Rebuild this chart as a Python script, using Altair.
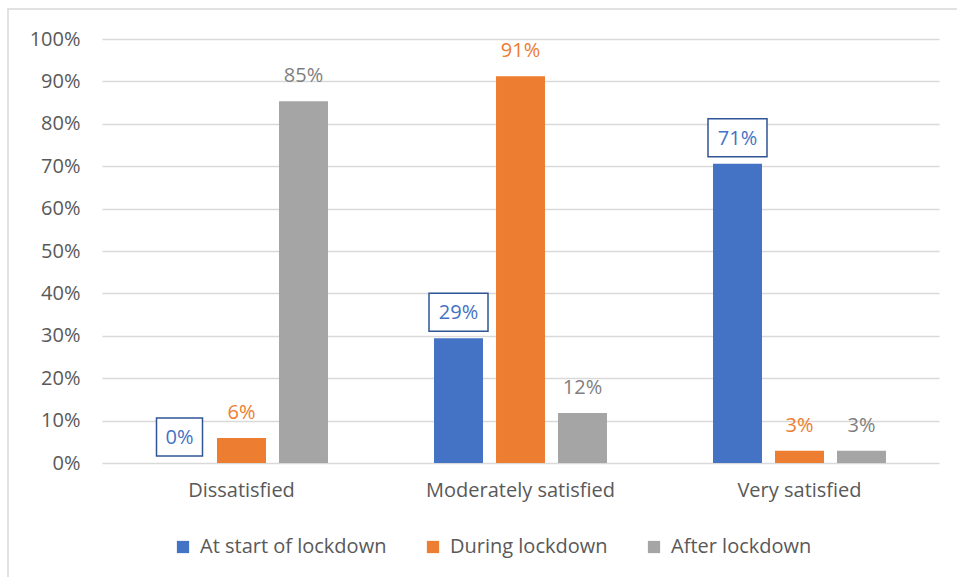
import altair as alt
import pandas as pd

categories = ["Dissatisfied", "Moderately satisfied", "Very satisfied"]
series = ["At start of lockdown", "During lockdown", "After lockdown"]
start_vals = [0.000, 0.294, 0.706]
during_vals = [0.059, 0.912, 0.029]
after_vals = [0.853, 0.118, 0.029]
y_ticks = [0.0, 0.1, 0.2, 0.3, 0.4, 0.5, 0.6, 0.7, 0.8, 0.9, 1.0]

bar_colors = ["#4472C4", "#ED7D31", "#A5A5A5"]
label_colors = ["#4472C4", "#ED7D31", "#7F7F7F"]
FONT = "Open Sans"
TXT = "#595959"

rows = []
for s, vals in zip(series, [start_vals, during_vals, after_vals]):
    for c, v in zip(categories, vals):
        rows.append({"category": c, "series": s, "value": v})
df = pd.DataFrame(rows)

x_enc = alt.X("category:N", sort=categories,
              scale=alt.Scale(paddingInner=0, paddingOuter=0),
              axis=alt.Axis(title=None, labelAngle=0, domain=False, ticks=False,
                            labelFont=FONT, labelFontSize=20, labelColor=TXT,
                            labelPadding=17, labelLimit=500, grid=False))
xo_enc = alt.XOffset("series:N", sort=series,
                     scale=alt.Scale(domain=series, paddingInner=0.21, paddingOuter=0.855))
y_scale = alt.Scale(domain=[0, 1], nice=False)

base = alt.Chart(df).encode(x=x_enc, xOffset=xo_enc)

bars = base.mark_bar().encode(
    y=alt.Y("value:Q", scale=y_scale,
            axis=alt.Axis(title=None, values=y_ticks, format=".0%", domain=False, ticks=False,
                          labelFont=FONT, labelFontSize=20, labelColor=TXT, labelPadding=22,
                          gridColor="#d9d9d9", gridWidth=1.5)),
    color=alt.Color("series:N", sort=series,
                    scale=alt.Scale(domain=series, range=bar_colors),
                    legend=alt.Legend(title=None, orient="none", legendX=71, legendY=498,
                                      direction="horizontal", symbolType="square",
                                      symbolSize=150, symbolStrokeWidth=0,
                                      labelFont=FONT, labelFontSize=20, labelColor=TXT,
                                      labelLimit=500, labelOffset=7, columnPadding=36,
                                      padding=0)),
)

boxes = base.transform_filter(
    alt.datum.series == series[0]
).transform_calculate(
    w="20 + 13 * length(format(datum.value, '.0%'))"
).mark_bar(fill="white", stroke="#2F5597", strokeWidth=1.5, yOffset=-45, y2Offset=-7).encode(
    y=alt.Y("value:Q", scale=y_scale),
    y2=alt.Y2("value:Q"),
    size=alt.Size("w:Q", scale=None, legend=None),
)

labels = base.mark_text(dy=-25, baseline="middle", font=FONT, fontSize=20).encode(
    y=alt.Y("value:Q", scale=y_scale),
    text=alt.Text("value:Q", format=".0%"),
    color=alt.Color("series:N", sort=series,
                    scale=alt.Scale(domain=series, range=label_colors), legend=None),
)

border = alt.Chart(pd.DataFrame({"k": [0]})).mark_rect(
    filled=False, stroke="#d9d9d9", strokeWidth=1.5
).encode(x=alt.value(-94), x2=alt.value(900), y=alt.value(-30), y2=alt.value(600))

chart = alt.layer(border, bars, boxes, labels).resolve_scale(
    color="independent"
).properties(
    width=837, height=424,
    autosize=alt.AutoSizeParams(type="none"),
    padding={"left": 102, "top": 39, "right": 18, "bottom": 114},
    background="white",
).configure_view(strokeWidth=0)

chart.save("out.html", embed_options={"renderer": "svg", "actions": False})
